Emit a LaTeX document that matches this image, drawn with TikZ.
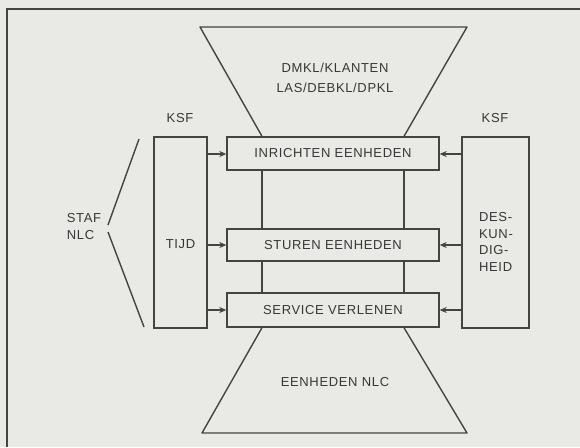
\documentclass[tikz,border=0pt]{standalone}
\usepackage{fontspec}
\setmainfont{Liberation Sans}[LetterSpace=5]
\usetikzlibrary{arrows.meta}
\definecolor{bgc}{RGB}{233,233,230}
\definecolor{ink}{RGB}{68,68,68}
\definecolor{txt}{RGB}{55,55,55}
\begin{document}
\begin{tikzpicture}[x=1pt,y=-1pt,
  every node/.style={text=txt,font=\fontsize{13}{16.5}\selectfont},
  box/.style={draw=ink,line width=1.4pt,inner sep=0pt},
  ln/.style={draw=ink,line width=1.4pt},
  arr/.style={ln,-{Stealth[length=7pt,width=6pt]}}]
\fill[bgc] (0,0) rectangle (580,447);
\useasboundingbox (0,0) rectangle (580,447);
% frame
\coordinate (f1) at (7,447);
\coordinate (f2) at (7,9);
\coordinate (f3) at (580,9);
\draw[ink,line width=2.2pt] (f1) -- (f2) -- (f3);
% boxes
\node[box,minimum width=212pt,minimum height=33pt] (inr) at (333,153.5) {INRICHTEN EENHEDEN};
\node[box,minimum width=212pt,minimum height=32pt] (stu) at (333,245) {STUREN EENHEDEN};
\node[box,minimum width=212pt,minimum height=34pt] (ser) at (333,310) {SERVICE VERLENEN};
\node[box,minimum width=53pt,minimum height=191pt] (tijd) at (180.5,232.5) {};
\node (tijdl) at (180.5,244) {TIJD};
\node[box,minimum width=67pt,minimum height=191pt] (desk) at (495.5,232.5) {};
\node[align=left] (deskl) at (496,242) {DES-\\KUN-\\DIG-\\HEID};
\node (ksfl) at (180,118) {KSF};
\node (ksfr) at (495,118) {KSF};
\node[align=left] (staf) at (84,226.5) {STAF\\NLC};
\node[align=center,font=\fontsize{13}{20}\selectfont] (topt) at (335,78) {DMKL/KLANTEN\\LAS/DEBKL/DPKL};
\node (bott) at (335,382) {EENHEDEN NLC};
% trapezoids and verticals
\coordinate (L) at (262,0);
\coordinate (R) at (404,0);
\coordinate (tl) at (200,27);
\coordinate (tr) at (467,27);
\coordinate (bl) at (202,433);
\coordinate (br) at (467,433);
\coordinate (ya) at (0,154);
\draw[ln,line join=round] (inr.north -| L) -- (tl) -- (tr) -- (inr.north -| R);
\draw[ln,line join=round] (ser.south -| L) -- (bl) -- (br) -- (ser.south -| R);
\draw[ln] (inr.south -| L) -- (stu.north -| L);
\draw[ln] (inr.south -| R) -- (stu.north -| R);
\draw[ln] (stu.south -| L) -- (ser.north -| L);
\draw[ln] (stu.south -| R) -- (ser.north -| R);
% arrows
\draw[arr] (tijd.east |- ya) -- (inr.west |- ya);
\draw[arr] (tijd.east |- stu) -- (stu.west);
\draw[arr] (tijd.east |- ser) -- (ser.west);
\draw[arr] (desk.west |- ya) -- (inr.east |- ya);
\draw[arr] (desk.west |- stu) -- (stu.east);
\draw[arr] (desk.west |- ser) -- (ser.east);
% staf lines
\coordinate (s1) at (139,139);
\coordinate (s2) at (108,225);
\coordinate (s3) at (108,232);
\coordinate (s4) at (144,327);
\draw[ln] (s1) -- (s2);
\draw[ln] (s3) -- (s4);
\end{tikzpicture}
\end{document}
